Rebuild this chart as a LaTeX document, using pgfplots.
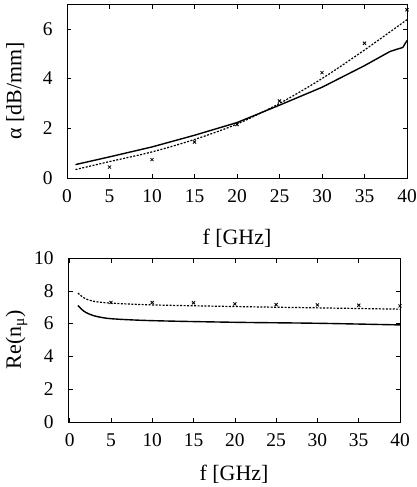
\documentclass[border=0pt]{standalone}
\usepackage{pgfplots}
\pgfplotsset{compat=1.18}
\usepackage{fontspec}
\setmainfont{Liberation Serif}
\pgfplotsset{
  myax/.style={
    scale only axis,
    /pgf/number format/assume math mode=true,
    tick label style={font=\fontsize{19.5}{22}\selectfont},
    xticklabel style={yshift=-8bp},
    yticklabel style={xshift=-11bp},
    major tick length=4.5bp,
    axis line style={line width=0.8pt},
    tick style={line width=0.6pt,black},
    xtick={0,5,...,40},
  },
}
\begin{document}
\begin{tikzpicture}
\useasboundingbox (0bp,0bp) rectangle (417bp,-487bp);
\begin{axis}[myax,
  at={(67bp,-178bp)}, anchor=south west,
  width=340bp, height=174bp,
  xmin=0, xmax=40, ymin=0, ymax=7,
  ytick={0,2,4,6},
  xlabel={f [GHz]},
  ylabel={α [dB/mm]},
  every axis x label/.style={at={(axis description cs:0.5,-0.345)},anchor=center,font=\fontsize{22}{25}\selectfont},
  every axis y label/.style={at={(axis description cs:-0.152,0.5)},rotate=90,anchor=center,font=\fontsize{22}{25}\selectfont},
]
\addplot[black, line width=1.4pt] coordinates {
(1,0.54) (5,0.85) (10,1.25) (15,1.72) (20,2.23) (25,2.93) (30,3.65) (35,4.52) (38,5.09) (39,5.2) (39.5,5.25) (40,5.53)};
\addplot[black, line width=1.2pt, dash pattern=on 2pt off 1.5pt, smooth] coordinates {
(1,0.34) (5,0.66) (10,1.05) (15,1.55) (20,2.17) (25,3.0) (30,4.0) (35,5.15) (40,6.37)};
\addplot[only marks, mark=x, mark size=2.2pt, black, line width=0.8pt] coordinates {
(5,0.44) (10,0.74) (15,1.45) (20,2.15) (25,3.1) (30,4.24) (35,5.42) (40,6.77)};
\end{axis}
\begin{axis}[myax,
  at={(68bp,-422bp)}, anchor=south west,
  width=332bp, height=164bp,
  xmin=-0.2, xmax=40, ymin=0, ymax=10,
  ytick={0,2,4,6,8,10},
  xlabel={f [GHz]},
  ylabel={Re(n\textsubscript{μ})},
  every axis x label/.style={at={(axis description cs:0.5,-0.318)},anchor=center,font=\fontsize{22}{25}\selectfont},
  every axis y label/.style={at={(axis description cs:-0.155,0.5)},rotate=90,anchor=center,font=\fontsize{22}{25}\selectfont},
]
\addplot[black, line width=1.4pt, smooth] coordinates {
(1,7.1) (1.5,6.85) (2,6.67) (3,6.47) (5,6.3) (10,6.18) (20,6.08) (30,6.02) (40,5.92)};
\addplot[black, line width=1.2pt, dash pattern=on 2pt off 1.5pt, smooth] coordinates {
(1,7.86) (1.5,7.65) (2,7.5) (3,7.35) (5,7.25) (10,7.14) (20,7.04) (30,6.96) (40,6.88)};
\addplot[only marks, mark=x, mark size=2.2pt, black, line width=0.8pt] coordinates {
(5,7.29) (10,7.29) (15,7.27) (20,7.2) (25,7.16) (30,7.14) (35,7.12) (40,7.08)};
\end{axis}
\end{tikzpicture}
\end{document}
